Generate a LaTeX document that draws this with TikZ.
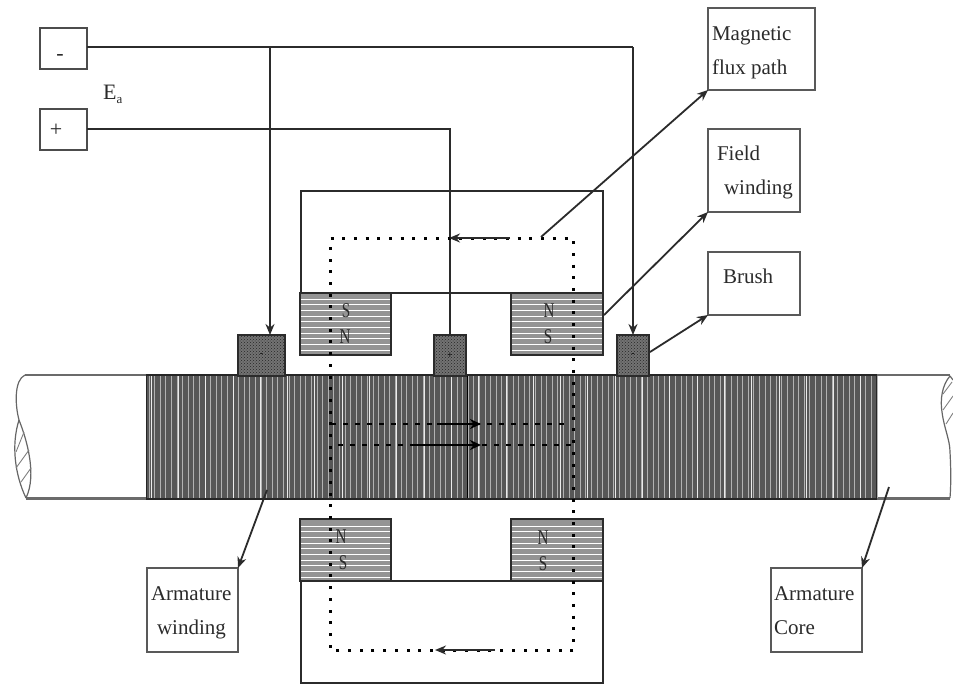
\documentclass[tikz,border=0pt]{standalone}
\usepackage{fontspec}
\setmainfont{Liberation Serif}
\usetikzlibrary{arrows.meta,patterns}
\definecolor{ink}{gray}{0.17}
\newcommand\lbox[3]{\begin{minipage}[t][#2][t]{#1}\fontsize{21}{34}\selectfont\setlength{\parindent}{0pt}#3\end{minipage}}
\newcommand\polel[1]{\scalebox{.72}[1]{#1}}
\tikzset{
 line/.style={draw=ink,line width=1.8pt},
 lab/.style={draw=black!65,line width=2pt,fill=white,inner sep=0pt,outer sep=0pt,anchor=north west,text=ink},
 term/.style={draw=black!70,line width=2.4pt,fill=white,inner sep=0pt,outer sep=0pt,anchor=north west,font=\fontsize{22}{22}\selectfont,text=ink},
 brushbox/.style={draw=ink,line width=1.5pt,preaction={fill=black!55},pattern=crosshatch dots,pattern color=black!85,inner sep=0pt,outer sep=0pt,anchor=north west,font=\fontsize{10}{10}\selectfont},
 pole/.style={draw=ink,line width=1.8pt,inner sep=0pt,outer sep=0pt,anchor=north west},
 arr/.style={draw=ink,line width=1.8pt,-{Stealth[length=11pt,width=9pt]}},
 flux/.style={draw=black,line width=3pt,dash pattern=on 3pt off 8.7pt},
 innerflux/.style={draw=black,line width=1.8pt,dash pattern=on 5pt off 7pt},
 innerarr/.style={draw=black,line width=1.8pt,-{Stealth[length=11pt,width=10pt]}},
 pl/.style={font=\fontsize{21}{21}\selectfont,text=ink,inner sep=0pt},
 shaftend/.style={draw=black!60,line width=1.2pt},
 shaftline/.style={draw=black!58,line width=2.2pt},
}
\begin{document}
\begin{tikzpicture}[x=1pt,y=-1pt]
\useasboundingbox (0,0) rectangle (953,686);
\fill[white] (0,0) rectangle (953,686);

% shaft
\draw[shaftline] (25,375) -- (950,375);
\draw[shaftline] (26,498.5) -- (950,498.5);
\draw[shaftend] (25,375) .. controls (14,380) and (15,405) .. (19,420);
\draw[shaftend] (19,420) .. controls (27,440) and (37,475) .. (26,498);
\draw[shaftend] (19,420) .. controls (11,445) and (15,475) .. (26,498);
\foreach \a/\b/\c/\d in {16/452/24/432, 16/468/29/450, 21/482/31/468}
  \draw[draw=black!50,line width=.9pt] (\a,\b) -- (\c,\d);
\draw[shaftend] (950,376) .. controls (942,385) and (940,400) .. (942,412) .. controls (944,428) and (950,440) .. (950,452) .. controls (951,470) and (951,485) .. (950,498);
\draw[shaftend] (950,376) -- (953,380);
\foreach \a/\b/\c/\d in {943/394/952/382, 943/410/953/396, 946/424/953/413}
  \draw[draw=black!50,line width=.9pt] (\a,\b) -- (\c,\d);

% armature winding
\fill[black!66] (146,375) rectangle (877,499);
\foreach \i in {0,...,130}
  \draw[black!30,line width=.8pt] ({149+5.6*\i},376) -- ({149+5.6*\i},498);
\foreach \i in {0,...,26}
  \draw[black!8,line width=.8pt] ({151+27.3*\i},376) -- ({151+27.3*\i},498);
\draw[black,line width=1pt] (467,376) -- (467,498);
\draw[black!85,line width=1pt] (146.5,376) -- (146.5,498);
\draw[black!85,line width=1pt] (876.5,376) -- (876.5,498);
\draw[black!85,line width=1.8pt] (146,375) -- (877,375);
\draw[black!85,line width=1.8pt] (146,499) -- (877,499);

% yokes
\draw[line] (301,293) -- (301,191) -- (603,191) -- (603,293);
\draw[line] (391,293) -- (511,293);
\draw[line] (301,581) -- (301,683) -- (603,683) -- (603,581);
\draw[line] (391,581) -- (511,581);

% poles
\foreach \x/\w in {300/91,511/92}{
  \fill[black!42] (\x,293) rectangle ++(\w,62);
  \foreach \k in {0,...,9}
    \draw[white,line width=1pt] (\x,{299+5.7*\k}) -- ++(\w,0);
  \fill[black!42] (\x,519) rectangle ++(\w,62);
  \foreach \k in {0,...,9}
    \draw[white,line width=1pt] (\x,{526+5.7*\k}) -- ++(\w,0);
}
\node[pole,minimum width=91pt,minimum height=62pt] (poleTL) at (300,293) {};
\node[pole,minimum width=92pt,minimum height=62pt] (poleTR) at (511,293) {};
\node[pole,minimum width=91pt,minimum height=62pt] (poleBL) at (300,519) {};
\node[pole,minimum width=92pt,minimum height=62pt] (poleBR) at (511,519) {};
\node[pl] (s1) at (346,311) {\polel{S}};
\node[pl] (n1) at (345,337) {\polel{N}};
\node[pl] (n2) at (549,311) {\polel{N}};
\node[pl] (s2) at (548,337) {\polel{S}};
\node[pl] (n3) at (341,537) {\polel{N}};
\node[pl] (s3) at (343,563) {\polel{S}};
\node[pl] (n4) at (543,538) {\polel{N}};
\node[pl] (s4) at (543,564) {\polel{S}};

% brushes
\node[brushbox,minimum width=47pt,minimum height=41pt] (b1) at (238,335) {-};
\node[brushbox,minimum width=32pt,minimum height=41pt] (b2) at (434,335) {+};
\node[brushbox,minimum width=32pt,minimum height=41pt] (b3) at (617,335) {-};

% terminals
\node[term,minimum width=47pt,minimum height=41pt] (minus) at (40,28) {\makebox[0pt]{\hspace{-7pt}\raisebox{-12pt}[0pt][0pt]{-}}};
\node[term,minimum width=47pt,minimum height=41pt] (plus) at (40,109) {\makebox[0pt]{\hspace{-15pt}\raisebox{-7pt}[0pt][0pt]{+}}};
\node[font=\fontsize{22}{22}\selectfont,text=ink,inner sep=0pt,anchor=base west] (en) at (103,99) {E\raisebox{-4pt}{\fontsize{13}{13}\selectfont a}};

% wiring
\coordinate (j1) at (270,47);
\coordinate (j2) at (633,47);
\coordinate (j3) at (450,129);
\draw[line] (minus.east |- j1) -- (j2);
\draw[arr] (j2) -- (j2 |- b3.north);
\draw[arr] (j1) -- (j1 |- b1.north);
\draw[line] (plus.east |- j3) -- (j3) -- (j3 |- b2.north);

% flux
\coordinate (f1) at (330.5,238.5);
\coordinate (f2) at (573.5,238.5);
\coordinate (f3) at (573.5,650.5);
\coordinate (f4) at (330.5,650.5);
\draw[flux] (f1) -- (f2) -- (f3) -- (f4) -- cycle;
\coordinate (ma) at (510,238);
\coordinate (mb) at (449,238);
\draw[arr] (ma) -- (mb);
\coordinate (mc) at (495,650);
\coordinate (md) at (435,650);
\draw[arr] (mc) -- (md);
\coordinate (i1) at (331,424);
\coordinate (i2) at (566,424);
\coordinate (i3) at (338,445);
\coordinate (i4) at (573,445);
\coordinate (i5) at (481,424);
\coordinate (i6) at (481,445);
\coordinate (i7) at (437,424);
\coordinate (i8) at (413,445);
\draw[innerflux] (i1) -- (i2);
\draw[innerflux] (i3) -- (i4);
\draw[innerarr] (i7) -- (i5);
\draw[innerarr] (i8) -- (i6);

% labels
\node[lab] (lflux) at (708,8) {\lbox{107pt}{82pt}{\rule{0pt}{32pt}\hspace*{4pt}Magnetic\\\hspace*{4pt}flux path}};
\node[lab] (lfield) at (708,129) {\lbox{92pt}{83pt}{\rule{0pt}{31pt}\hspace*{9pt}Field\\\hspace*{16pt}winding}};
\node[lab] (lbrush) at (708,252) {\lbox{92pt}{63pt}{\rule{0pt}{31pt}\hspace*{15pt}Brush}};
\node[lab] (lwind) at (147,568) {\lbox{91pt}{84pt}{\rule{0pt}{32pt}\hspace*{4pt}Armature\\\hspace*{10pt}winding}};
\node[lab] (lcore) at (771,568) {\lbox{91pt}{84pt}{\rule{0pt}{32pt}\hspace*{3pt}Armature\\\hspace*{3pt}Core}};

% leaders
\coordinate (a1) at (541,237);
\coordinate (a2) at (604,315);
\coordinate (a3) at (650,352);
\coordinate (a4) at (267,490);
\coordinate (a5) at (889,487);
\draw[arr] (a1) -- (lflux.south west);
\draw[arr] (a2) -- (lfield.south west);
\draw[arr] (a3) -- (lbrush.south west);
\draw[arr] (a4) -- (lwind.north east);
\draw[arr] (a5) -- (lcore.north east);
\end{tikzpicture}
\end{document}
